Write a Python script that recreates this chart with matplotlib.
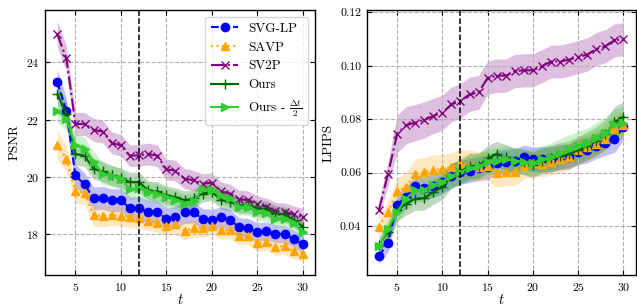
import numpy as np
import matplotlib
matplotlib.use("Agg")
import matplotlib.pyplot as plt

plt.rcParams['font.family'] = ['cmr10', 'DejaVu Serif']
plt.rcParams['mathtext.fontset'] = 'cm'
plt.rcParams['axes.unicode_minus'] = False
plt.rcParams['axes.formatter.use_mathtext'] = True

t = list(range(3, 31))

# PSNR
psnr_svglp = [23.31, 22.30, 20.05, 19.74, 19.25, 19.27, 19.18, 19.19, 18.90, 18.90, 18.79, 18.77, 18.55, 18.59,
              18.76, 18.77, 18.53, 18.51, 18.59, 18.51, 18.24, 18.21, 18.09, 18.11, 18.02, 18.00, 17.84, 17.66]
psnr_savp = [21.13, 20.63, 19.50, 19.45, 18.67, 18.64, 18.67, 18.64, 18.61, 18.58, 18.48, 18.41, 18.30, 18.35,
             18.12, 18.21, 18.21, 18.30, 18.14, 18.14, 17.95, 17.95, 17.69, 17.72, 17.55, 17.60, 17.40, 17.33]
psnr_sv2p = [24.98, 24.13, 21.84, 21.85, 21.64, 21.58, 21.19, 21.10, 20.74, 20.75, 20.80, 20.74, 20.26, 20.22,
             19.94, 19.88, 19.76, 19.80, 19.50, 19.42, 19.22, 19.19, 19.04, 18.96, 18.81, 18.79, 18.69, 18.61]
psnr_ours = [22.88, 22.20, 20.80, 20.74, 20.28, 20.19, 20.05, 19.96, 19.82, 19.82, 19.53, 19.50, 19.36, 19.30,
             19.19, 19.25, 19.42, 19.48, 19.19, 19.13, 19.01, 19.01, 18.90, 18.88, 18.73, 18.69, 18.50, 18.27]
psnr_ours_half = [22.30, 22.02, 21.10, 20.98, 20.51, 20.11, 20.03, 19.94, 19.57, 19.60, 19.48, 19.42, 19.30, 19.19,
                  19.07, 19.15, 19.59, 19.53, 19.36, 19.25, 18.96, 18.96, 18.78, 18.73, 18.53, 18.55, 18.38, 18.09]
psnr_err_svglp = [0.45, 0.45, 0.40, 0.40, 0.40, 0.40, 0.40, 0.40, 0.40, 0.40, 0.40, 0.40, 0.38, 0.38,
                  0.38, 0.38, 0.36, 0.36, 0.36, 0.36, 0.34, 0.34, 0.32, 0.32, 0.30, 0.30, 0.30, 0.30]
psnr_err_savp = [0.50, 0.45, 0.40, 0.40, 0.38, 0.38, 0.36, 0.36, 0.36, 0.36, 0.34, 0.34, 0.34, 0.34,
                 0.32, 0.32, 0.32, 0.32, 0.30, 0.30, 0.30, 0.30, 0.28, 0.28, 0.28, 0.28, 0.27, 0.27]
psnr_err_sv2p = [0.45, 0.45, 0.40, 0.40, 0.40, 0.40, 0.38, 0.38, 0.38, 0.38, 0.38, 0.38, 0.36, 0.36,
                 0.35, 0.35, 0.34, 0.34, 0.33, 0.33, 0.32, 0.32, 0.30, 0.30, 0.30, 0.30, 0.30, 0.30]
psnr_err_ours = [0.40, 0.40, 0.38, 0.38, 0.36, 0.36, 0.35, 0.35, 0.34, 0.34, 0.33, 0.33, 0.32, 0.32,
                 0.32, 0.32, 0.30, 0.30, 0.30, 0.30, 0.28, 0.28, 0.28, 0.28, 0.27, 0.27, 0.26, 0.26]
psnr_err_ours_half = [0.40, 0.40, 0.40, 0.40, 0.38, 0.38, 0.36, 0.36, 0.35, 0.35, 0.34, 0.34, 0.33, 0.33,
                      0.32, 0.32, 0.31, 0.31, 0.30, 0.30, 0.29, 0.29, 0.28, 0.28, 0.27, 0.27, 0.26, 0.26]

# LPIPS
lpips_svglp = [0.0287, 0.0337, 0.0479, 0.0508, 0.0549, 0.0541, 0.0551, 0.0564, 0.0588, 0.0601, 0.0607, 0.0616,
               0.0620, 0.0636, 0.0640, 0.0644, 0.0657, 0.0650, 0.0650, 0.0650, 0.0657, 0.0660, 0.0677, 0.0684,
               0.0700, 0.0712, 0.0725, 0.0772]
lpips_savp = [0.0397, 0.0452, 0.0529, 0.0545, 0.0595, 0.0601, 0.0611, 0.0612, 0.0620, 0.0632, 0.0630, 0.0622,
              0.0625, 0.0600, 0.0603, 0.0603, 0.0625, 0.0637, 0.0633, 0.0641, 0.0650, 0.0660, 0.0683, 0.0694,
              0.0707, 0.0725, 0.0768, 0.0777]
lpips_sv2p = [0.0461, 0.0595, 0.0744, 0.0777, 0.0787, 0.0797, 0.0812, 0.0824, 0.0855, 0.0868, 0.0893, 0.0900,
              0.0955, 0.0963, 0.0963, 0.0980, 0.0983, 0.0983, 0.0998, 0.1016, 0.1016, 0.1023, 0.1033, 0.1042,
              0.1063, 0.1073, 0.1095, 0.1100]
lpips_ours = [0.0328, 0.0378, 0.0458, 0.0483, 0.0502, 0.0504, 0.0527, 0.0545, 0.0588, 0.0603, 0.0625, 0.0625,
              0.0653, 0.0669, 0.0657, 0.0644, 0.0640, 0.0628, 0.0644, 0.0653, 0.0662, 0.0669, 0.0683, 0.0700,
              0.0718, 0.0743, 0.0789, 0.0809]
lpips_ours_half = [0.0324, 0.0390, 0.0452, 0.0502, 0.0533, 0.0536, 0.0554, 0.0566, 0.0586, 0.0603, 0.0616, 0.0625,
                   0.0638, 0.0644, 0.0650, 0.0644, 0.0640, 0.0636, 0.0650, 0.0660, 0.0675, 0.0690, 0.0700, 0.0712,
                   0.0731, 0.0750, 0.0781, 0.0786]
lpips_err_svglp = [0.0030, 0.0035, 0.0040, 0.0040, 0.0042, 0.0042, 0.0043, 0.0043, 0.0044, 0.0044, 0.0045, 0.0045,
                   0.0045, 0.0045, 0.0046, 0.0046, 0.0046, 0.0046, 0.0047, 0.0047, 0.0047, 0.0047, 0.0048, 0.0048,
                   0.0048, 0.0048, 0.0050, 0.0050]
lpips_err_savp = [0.0035, 0.0040, 0.0050, 0.0055, 0.0055, 0.0055, 0.0055, 0.0055, 0.0055, 0.0055, 0.0055, 0.0055,
                  0.0055, 0.0055, 0.0052, 0.0052, 0.0050, 0.0050, 0.0050, 0.0050, 0.0050, 0.0050, 0.0050, 0.0050,
                  0.0050, 0.0050, 0.0050, 0.0050]
lpips_err_sv2p = [0.0030, 0.0045, 0.0070, 0.0070, 0.0068, 0.0068, 0.0066, 0.0066, 0.0065, 0.0065, 0.0064, 0.0064,
                  0.0063, 0.0063, 0.0062, 0.0062, 0.0062, 0.0062, 0.0062, 0.0062, 0.0062, 0.0062, 0.0062, 0.0062,
                  0.0062, 0.0062, 0.0062, 0.0062]
lpips_err_ours = [0.0030, 0.0035, 0.0040, 0.0042, 0.0044, 0.0045, 0.0046, 0.0046, 0.0047, 0.0047, 0.0048, 0.0048,
                  0.0048, 0.0048, 0.0048, 0.0048, 0.0048, 0.0048, 0.0048, 0.0050, 0.0050, 0.0050, 0.0052, 0.0052,
                  0.0054, 0.0055, 0.0057, 0.0058]
lpips_err_ours_half = [0.0030, 0.0035, 0.0040, 0.0042, 0.0044, 0.0045, 0.0046, 0.0046, 0.0047, 0.0047, 0.0048, 0.0048,
                       0.0048, 0.0048, 0.0048, 0.0048, 0.0048, 0.0048, 0.0050, 0.0050, 0.0052, 0.0052, 0.0054, 0.0054,
                       0.0056, 0.0056, 0.0058, 0.0058]

labels = ['SVG-LP', 'SAVP', 'SV2P', 'Ours', r'Ours - $\frac{\Delta t}{2}$']
colors = ['blue', 'orange', 'purple', 'darkgreen', 'limegreen']
styles = ['--', ':', '-.', '-', '-']
markers = ['o', '^', 'x', '+', '>']
msizes = [6, 6, 6, 7, 6]

fig = plt.figure(figsize=(6.37, 3.07), dpi=100)
ax1 = fig.add_axes([0.0706, 0.1042, 0.4239, 0.8632])
ax2 = fig.add_axes([0.5757, 0.1042, 0.4223, 0.8632])

psnr_series = [psnr_svglp, psnr_savp, psnr_sv2p, psnr_ours, psnr_ours_half]
psnr_errs = [psnr_err_svglp, psnr_err_savp, psnr_err_sv2p, psnr_err_ours, psnr_err_ours_half]
lpips_series = [lpips_svglp, lpips_savp, lpips_sv2p, lpips_ours, lpips_ours_half]
lpips_errs = [lpips_err_svglp, lpips_err_savp, lpips_err_sv2p, lpips_err_ours, lpips_err_ours_half]

for ax, series, errs in [(ax1, psnr_series, psnr_errs), (ax2, lpips_series, lpips_errs)]:
    for i in range(5):
        y = np.array(series[i])
        e = np.array(errs[i])
        ax.fill_between(t, y - e, y + e, color=colors[i], alpha=0.25, linewidth=0)
        ax.plot(t, y, linestyle=styles[i], marker=markers[i], color=colors[i], label=labels[i],
                markersize=msizes[i], linewidth=1.5)
    ax.axvline(12, color='black', linestyle='--', linewidth=1.1)
    ax.grid(True, linestyle='--', color='#b0b0b0', linewidth=0.8)
    ax.tick_params(direction='in', top=True, right=True, labelsize=8.5, pad=4)
    ax.set_xlabel('$t$', fontsize=10.5, labelpad=0)
    ax.set_xticks([5, 10, 15, 20, 25, 30])
    for s in ax.spines.values():
        s.set_linewidth(1.0)

ax1.set_ylabel('PSNR', fontsize=9.5, labelpad=4)
ax1.set_yticks([18, 20, 22, 24])
ax1.set_ylim(16.58, 25.82)
ax1.set_xlim(1.65, 31.35)
ax2.set_ylabel('LPIPS', fontsize=9.5, labelpad=4)
ax2.set_yticks([0.04, 0.06, 0.08, 0.10, 0.12])
ax2.set_yticklabels(['0.04', '0.06', '0.08', '0.10', '0.12'])
ax2.set_ylim(0.0216, 0.1209)
ax2.set_xlim(1.65, 31.35)

ax1.legend(loc='upper right', fontsize=9.5, framealpha=0.8, handlelength=2.0, borderpad=0.45,
           labelspacing=0.5, handletextpad=0.8)

fig.savefig('out.png', dpi=100)
